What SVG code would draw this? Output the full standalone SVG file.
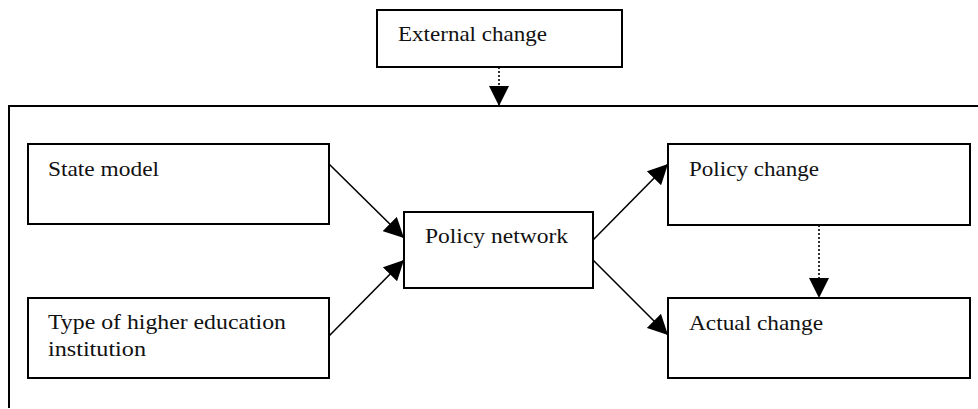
<svg xmlns="http://www.w3.org/2000/svg" width="978" height="409" viewBox="0 0 978 409">
  <style>
    .box { fill: #ffffff; stroke: #000000; stroke-width: 2; }
    .label { font-family: "Liberation Serif", "Times New Roman", serif; font-size: 21.5px; fill: #111111; }
    .edge { fill: none; stroke: #000000; stroke-width: 1.6; }
    .dotted { fill: none; stroke: #000000; stroke-width: 1.6; stroke-dasharray: 2 2; }
    .frame { fill: none; stroke: #000000; stroke-width: 2; }
  </style>
  <defs>
    <marker id="arrow" viewBox="0 0 20 20" refX="20" refY="10" markerWidth="20" markerHeight="20" markerUnits="userSpaceOnUse" orient="auto">
      <path d="M0,0 L20,10 L0,20 Z" fill="#000000"/>
    </marker>
  </defs>
  <rect width="978" height="409" fill="#ffffff"/>

  <!-- open frame: top and left edges only -->
  <path class="frame" d="M9,408 L9,106 L978,106"/>

  <g id="external-change">
    <rect class="box" x="377" y="10" width="245" height="57"/>
    <text class="label" x="398" y="41" textLength="149" lengthAdjust="spacingAndGlyphs">External change</text>
  </g>

  <g id="state-model">
    <rect class="box" x="28" y="144" width="301" height="80"/>
    <text class="label" x="48" y="176" textLength="111" lengthAdjust="spacingAndGlyphs">State model</text>
  </g>

  <g id="institution-type">
    <rect class="box" x="28" y="298" width="301" height="80"/>
    <text class="label" x="48" y="329" textLength="238" lengthAdjust="spacingAndGlyphs">Type of higher education</text>
    <text class="label" x="48" y="356" textLength="98" lengthAdjust="spacingAndGlyphs">institution</text>
  </g>

  <g id="policy-network">
    <rect class="box" x="404" y="212" width="189" height="76"/>
    <text class="label" x="425" y="243" textLength="143" lengthAdjust="spacingAndGlyphs">Policy network</text>
  </g>

  <g id="policy-change">
    <rect class="box" x="668" y="144" width="302" height="81"/>
    <text class="label" x="689" y="176" textLength="130" lengthAdjust="spacingAndGlyphs">Policy change</text>
  </g>

  <g id="actual-change">
    <rect class="box" x="668" y="298" width="302" height="80"/>
    <text class="label" x="689" y="330" textLength="134" lengthAdjust="spacingAndGlyphs">Actual change</text>
  </g>

  <g id="connectors">
    <path class="dotted" d="M499,67 L499,106" marker-end="url(#arrow)"/>
    <path class="edge" d="M329,164 L404,238" marker-end="url(#arrow)"/>
    <path class="edge" d="M329,336 L404,260" marker-end="url(#arrow)"/>
    <path class="edge" d="M593,240 L668,164" marker-end="url(#arrow)"/>
    <path class="edge" d="M593,260 L668,335" marker-end="url(#arrow)"/>
    <path class="dotted" d="M819,225 L819,298" marker-end="url(#arrow)"/>
  </g>
</svg>
